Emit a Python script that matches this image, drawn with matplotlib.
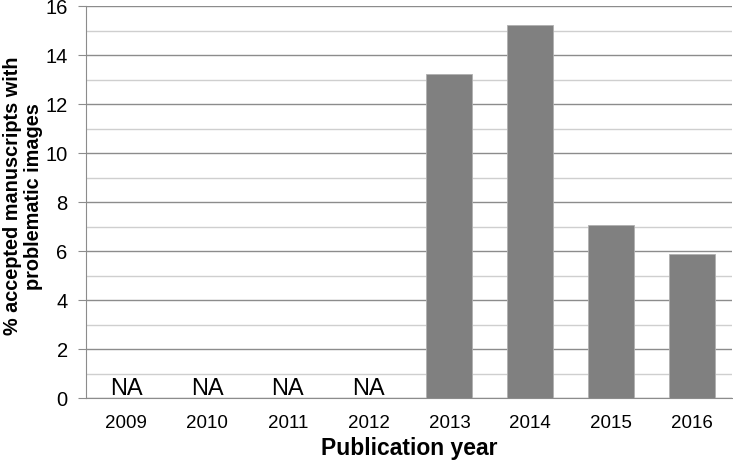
import numpy as np
import matplotlib.pyplot as plt

years = ['2009', '2010', '2011', '2012', '2013', '2014', '2015', '2016']
values = [0, 0, 0, 0, 13.22, 15.21, 7.07, 5.88]
na_years = ['2009', '2010', '2011', '2012']

plt.rcParams['font.family'] = ['Liberation Sans', 'DejaVu Sans']

fig = plt.figure(figsize=(7.33, 4.65), dpi=100)
ax = fig.add_axes([0.117, 0.144, 0.882, 0.843])

x = np.arange(len(years))
ax.bar(x, values, width=0.57, color='#808080', edgecolor='#b0b0b0', linewidth=0.6, zorder=3)

# NA labels sitting just above the baseline
for i, y in enumerate(years):
    if y in na_years:
        ax.text(i, 0.12, 'NA', ha='center', va='baseline', fontsize=17, color='black', zorder=4)

ax.set_xlim(-0.5, len(years) - 0.5)
ax.set_ylim(0, 16)
ax.set_yticks(np.arange(0, 17, 2))
ax.set_yticks(np.arange(1, 16, 2), minor=True)
ax.set_xticks(x)
ax.set_xticklabels(years)

ax.grid(axis='y', which='major', color='#8c8c8c', linewidth=1.0, zorder=0)
ax.grid(axis='y', which='minor', color='#cfcfcf', linewidth=1.0, zorder=0)

for s in ['top', 'right']:
    ax.spines[s].set_visible(False)
ax.spines['left'].set_color('#8c8c8c')
ax.spines['bottom'].set_color('#8c8c8c')

ax.tick_params(axis='y', which='major', length=6, color='#8c8c8c', labelsize=14.5, pad=7)
ax.tick_params(axis='y', which='minor', length=0)
ax.tick_params(axis='x', length=0, labelsize=13.5, pad=12)

ax.set_xlabel('Publication year', fontsize=16.5, fontweight='bold', labelpad=4)
ax.set_ylabel('% accepted manuscripts with\nproblematic images', fontsize=14.3,
              fontweight='bold', va='center', linespacing=1.15)
ax.yaxis.set_label_coords(-0.097, 0.515)

fig.savefig('out.png', dpi=100)
